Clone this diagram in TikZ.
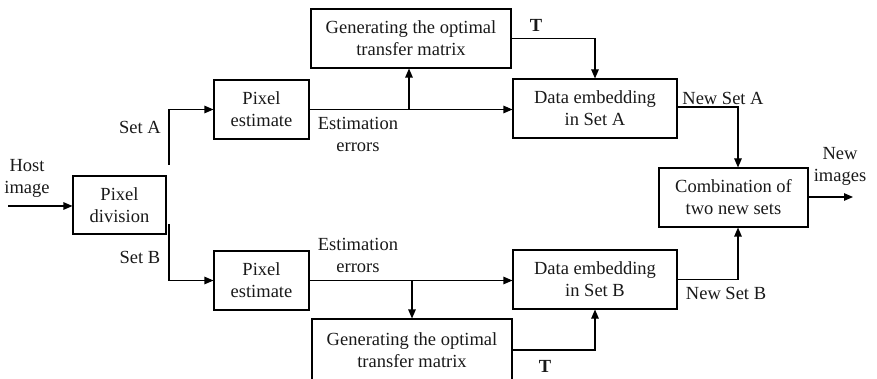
\documentclass[tikz,border=0pt]{standalone}
\usepackage{fontspec}
\setmainfont{Liberation Serif}
\usetikzlibrary{arrows.meta,calc}
\begin{document}
\begin{tikzpicture}[x=1pt,y=-1pt,
  every node/.style={font=\fontsize{18.5}{22}\selectfont, text=black!90},
  blk/.style={draw, line width=1.1pt, align=center, inner sep=2pt},
  lbl/.style={align=center, inner sep=0pt},
  flow/.style={line width=1.1pt, -{Triangle[length=9pt,width=7.5pt]}},
  wire/.style={line width=1.1pt}]
\useasboundingbox (0,0) rectangle (877,379);

% process blocks
\node[blk, minimum width=93pt, minimum height=58pt] (div) at (119.5,205) {Pixel\\division};
\node[blk, minimum width=95pt, minimum height=59pt] (estA) at (261.5,109.5) {Pixel\\estimate};
\node[blk, minimum width=95pt, minimum height=59pt] (estB) at (261.5,280.5) {Pixel\\estimate};
\node[blk, minimum width=200pt, minimum height=59pt] (genA) at (411,38.5) {Generating the optimal\\transfer matrix};
\node[blk, minimum width=200pt, minimum height=63pt] (genB) at (412,350.5) {Generating the optimal\\transfer matrix};
\node[blk, minimum width=164pt, minimum height=59pt] (dataA) at (595,108.5) {Data embedding\\in Set A};
\node[blk, minimum width=164pt, minimum height=59pt] (dataB) at (595,279.5) {Data embedding\\in Set B};
\node[blk, minimum width=149pt, minimum height=59pt] (comb) at (733.5,197.5) {Combination of\\two new sets};

% free line ends
\coordinate (in) at (8,206);
\coordinate (sa) at (169,165);
\coordinate (sb) at (169,224);
\coordinate (tapA) at (409,110);
\coordinate (tapB) at (412,280);
\coordinate (out) at (853,197);

% connectors
\draw[flow] (in) -- (div.west |- in);
\draw[flow] (sa) |- (estA.west);
\draw[flow] (sb) |- (estB.west);
\draw[flow] (estA.east) -- (dataA.west |- estA.east);
\draw[flow] (tapA) -- (tapA |- genA.south);
\draw[flow] (estB.east) -- (dataB.west |- estB.east);
\draw[flow] (tapB) -- (tapB |- genB.north);
\draw[flow] (genA.east) -| (dataA.north);
\draw[flow] ([yshift=0.5pt]genB.east) -| (dataB.south);
\draw[flow] ([yshift=1.5pt]dataA.east) -| ([xshift=4.5pt]comb.north);
\draw[flow] (dataB.east) -| ([xshift=4.5pt]comb.south);
\draw[flow] (comb.east |- out) -- (out);

% labels
\node[lbl] (lhost) at (27,178) {Host\\image};
\node[lbl] (lsa) at (140,127) {Set A};
\node[lbl] (lsb) at (140,257) {Set B};
\node[lbl] (leA) at (358,134) {Estimation\\errors};
\node[lbl] (leB) at (358,255) {Estimation\\errors};
\node[lbl, font=\fontsize{18.5}{22}\selectfont\bfseries] (ltA) at (536,25) {T};
\node[lbl, font=\fontsize{18.5}{22}\selectfont\bfseries] (ltB) at (545,366) {T};
\node[lbl] (lnA) at (723,98) {New Set A};
\node[lbl] (lnB) at (726,293) {New Set B};
\node[lbl] (lni) at (840,166) {New\\images};
\end{tikzpicture}
\end{document}
